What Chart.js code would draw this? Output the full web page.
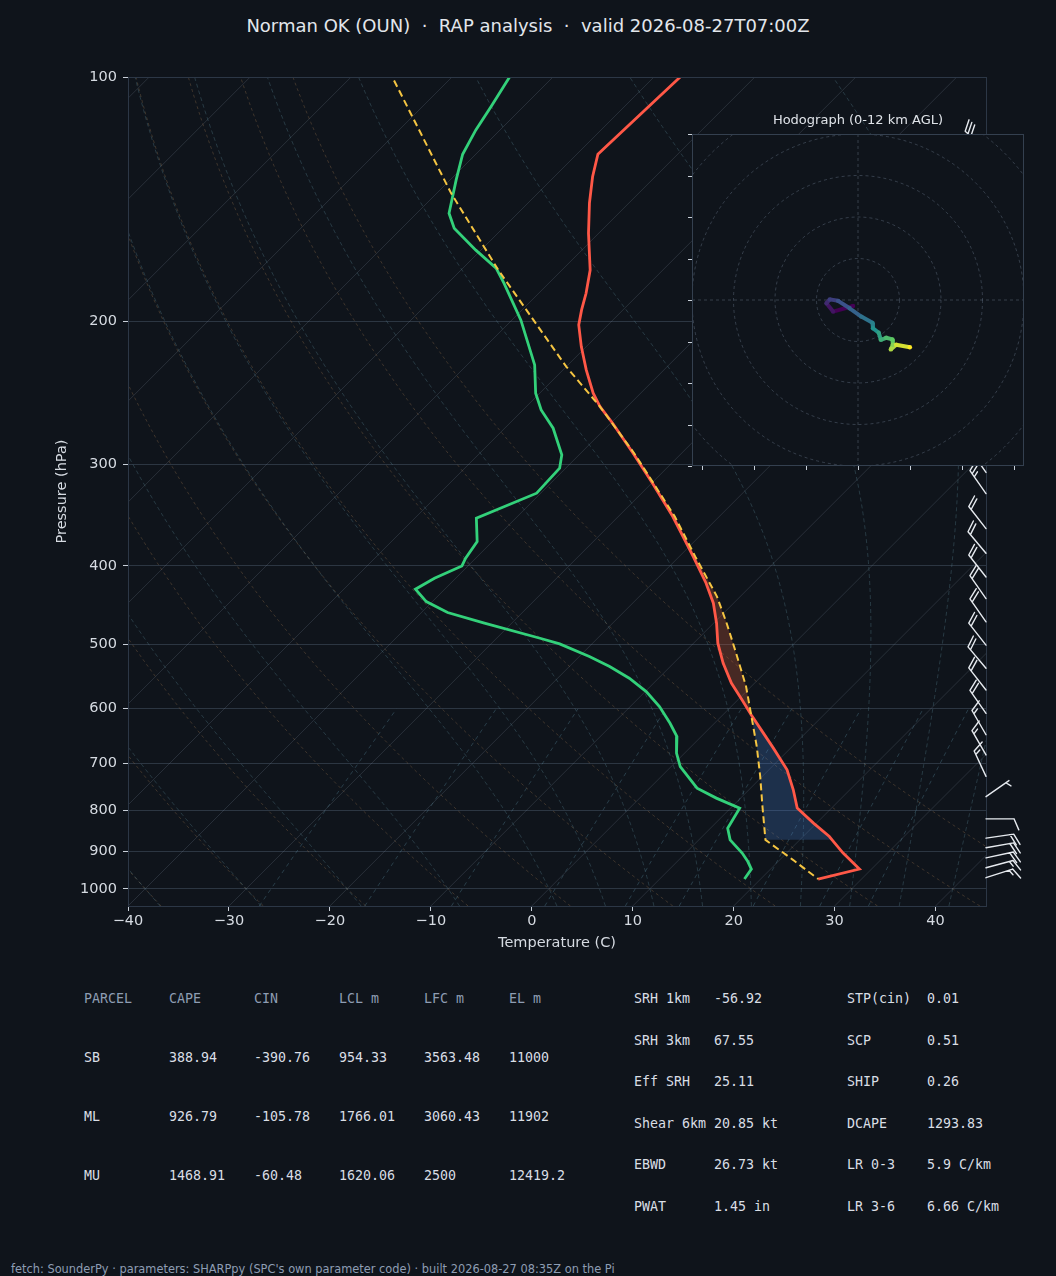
<!DOCTYPE html>
<html>
<head>
<meta charset="utf-8">
<title>Skew-T OUN</title>
<script src="https://cdn.jsdelivr.net/npm/chart.js@4.4.1/dist/chart.umd.min.js"></script>
<style>
  body { margin: 0; background: #0f141b; width: 1056px; height: 1276px; overflow: hidden; position: relative; font-family: "DejaVu Sans", sans-serif; }
  #title { position: absolute; top: 15px; left: 0; width: 1056px; text-align: center; color: #e2e6eb; font-size: 18px; white-space: pre; }
  #skewt { position: absolute; left: 0; top: 0; }
  #hodo { position: absolute; left: 682px; top: 110px; }
  #hodoTitle { position: absolute; left: 692px; width: 332px; top: 112px; text-align: center; color: #dfe3e8; font-size: 13px; }
  .t { position: absolute; font-family: "DejaVu Sans Mono", monospace; font-size: 13.3px; color: #d9dee5; white-space: pre; line-height: 14px; }
  .h { color: #8e9db3; }
  #foot { position: absolute; left: 11px; top: 1262px; font-size: 11.4px; color: #8e9db3; white-space: pre; }
</style>
</head>
<body>
<div id="title">Norman OK (OUN)  ·  RAP analysis  ·  valid 2026-08-27T07:00Z</div>
<canvas id="skewt" width="1056" height="960"></canvas>
<canvas id="hodo" width="352" height="366"></canvas>
<div id="hodoTitle">Hodograph (0-12 km AGL)</div>
<div id="tables"></div>
<div id="foot">fetch: SounderPy · parameters: SHARPpy (SPC's own parameter code) · built 2026-08-27 08:35Z on the Pi</div>

<script>
// ---- sounding (pressure hPa, temperature C)
const tempP = [100, 124.5, 132.7, 143.0, 155.8, 172.9, 184.7, 193.6, 202.0, 214.8, 229.5, 245.2, 254.7, 267.0, 290.7, 316.6, 347.9, 389.8, 420.3, 444.8, 470.8, 498.2, 527.2, 558.0, 585.0, 610.5, 634.0, 671.0, 713.5, 755.2, 795.4, 830.0, 862.2, 870.4, 903.6, 945.6, 972.7];
const tempT = [-67.4, -67.9, -66.2, -63.9, -61.0, -57.2, -55.3, -54.1, -52.9, -50.5, -47.7, -44.7, -42.7, -39.8, -34.8, -29.9, -24.6, -18.6, -14.7, -12.0, -9.7, -7.6, -5.1, -2.3, 0.4, 2.8, 5.0, 8.3, 11.8, 14.4, 16.6, 19.7, 22.6, 23.2, 25.6, 28.8, 25.7];

const dewP = [100, 108.8, 116.2, 124.5, 133.9, 147.2, 153.6, 163.4, 172.0, 179.6, 199.3, 226.3, 245.2, 257.1, 270.8, 292.1, 303.3, 325.6, 349.5, 373.5, 391.5, 400.2, 414.4, 427.5, 442.8, 456.8, 470.8, 491.3, 499.2, 517.5, 532.4, 550.3, 571.5, 596.4, 625.3, 649.3, 680.6, 707.0, 751.6, 773.2, 795.4, 842.0, 870.4, 903.6, 925.6, 945.6, 972.7];
const dewT = [-84.3, -83.2, -82.4, -81.3, -79.4, -76.8, -74.8, -70.5, -66.7, -64.4, -59.1, -53.3, -50.4, -48.2, -45.2, -41.7, -40.6, -40.4, -43.9, -41.5, -41.0, -40.6, -42.1, -42.9, -40.6, -37.4, -32.7, -25.7, -23.2, -19.0, -16.0, -12.9, -9.9, -7.1, -4.4, -2.4, -0.8, 0.9, 4.7, 7.6, 10.9, 11.7, 13.1, 15.6, 17.0, 18.1, 18.4];

const parcelP = [101, 139.0, 172.9, 227.4, 254.7, 290.7, 316.6, 347.9, 389.8, 436.5, 470.8, 512.5, 563.5, 610.5, 668.0, 727.1, 791.8, 870.4, 921.1, 972.7];
const parcelT = [-95.4, -78.6, -66.3, -50.0, -42.7, -34.7, -29.8, -24.4, -18.4, -12.3, -8.7, -4.8, -0.5, 2.8, 6.5, 9.8, 13.0, 16.6, 21.3, 25.7];

// pressure bounds of the shaded areas (LFC / EL / LCL)
const capeRange = [254.7, 610.5];
const cinRange = [610.5, 870.4];

// ---- wind barbs (pressure hPa, direction deg, speed kt)
const barbP = [123, 131, 140, 150, 160, 170, 182, 194, 207, 221, 236, 252, 269, 287, 307, 326, 360, 386, 413, 439, 469, 501, 535, 569, 608, 646, 684, 727, 770, 820, 866, 890, 916, 942, 969];
const barbDir = [312, 312, 310, 310, 308, 310, 312, 315, 315, 318, 318, 320, 320, 322, 325, 325, 322, 320, 322, 325, 325, 322, 320, 322, 325, 330, 330, 335, 55, 90, 82, 80, 78, 75, 72];
const barbSpd = [30, 30, 30, 30, 25, 25, 25, 25, 25, 25, 25, 25, 25, 25, 25, 25, 20, 20, 20, 20, 20, 20, 20, 20, 20, 15, 15, 15, 5, 10, 20, 20, 20, 15, 15];

// ---- hodograph (u, v in kt), surface first
const hodoU = [-1.2, -6.0, -7.6, -6.8, -4.8, -2.0, 0.8, 3.5, 3.6, 5.0, 5.5, 6.8, 8.3, 8.4, 7.9, 9.2, 12.5];
const hodoV = [-1.45, -2.8, -0.8, 0.15, -0.2, -2.0, -4.0, -5.5, -6.8, -7.9, -9.6, -9.1, -9.5, -10.8, -11.9, -10.8, -11.4];
const hodoRings = [10, 20, 30, 40, 50];
const hodoXTicks = [-37.5, -25, -12.5, 0, 12.5, 25, 37.5];
const hodoYTicks = [-40, -30, -20, -10, 0, 10, 20, 30, 40];

// ---- axes
const xTicks = [-40, -30, -20, -10, 0, 10, 20, 30, 40];
const yTicks = [100, 200, 300, 400, 500, 600, 700, 800, 900, 1000];

// ---- background lines of the diagram
const isotherms = [-120, -110, -100, -90, -80, -70, -60, -50, -40, -30, -20, -10, 0, 10, 20, 30, 40];
const dryT0 = [-40, -30, -20, -10, 0, 10, 20, 30, 40, 50];
const moistT0 = [-40, -30, -20, -10, 0, 5, 10, 15, 20, 25, 30, 35, 40, 45];
const mixRatios = [0.0004, 0.001, 0.002, 0.004, 0.007, 0.01, 0.016, 0.024, 0.032];

// parameter tables
const parcelHead = ['PARCEL', 'CAPE', 'CIN', 'LCL m', 'LFC m', 'EL m'];
const parcelRows = [
  ['SB', '388.94', '-390.76', '954.33', '3563.48', '11000'],
  ['ML', '926.79', '-105.78', '1766.01', '3060.43', '11902'],
  ['MU', '1468.91', '-60.48', '1620.06', '2500', '12419.2']
];
const paramRows = [
  ['SRH 1km', '-56.92', 'STP(cin)', '0.01'],
  ['SRH 3km', '67.55', 'SCP', '0.51'],
  ['Eff SRH', '25.11', 'SHIP', '0.26'],
  ['Shear 6km', '20.85 kt', 'DCAPE', '1293.83'],
  ['EBWD', '26.73 kt', 'LR 0-3', '5.9 C/km'],
  ['PWAT', '1.45 in', 'LR 3-6', '6.66 C/km']
];

const PBOT = 1050, PTOP = 100;
const SKEW = 80.4; // C per decade of pressure, isotherms at 45 degrees

function skx(t, p) { return t + SKEW * Math.log10(PBOT / p); }
function pts(P, T) { return P.map((p, i) => ({ x: skx(T[i], p), y: p })); }
function between(P, T, lo, hi) {
    const out = [];
    P.forEach((p, i) => { if (p >= lo && p <= hi) out.push({ x: skx(T[i], p), y: p }); });
    return out;
}

const capeShape = between(parcelP, parcelT, capeRange[0], capeRange[1])
    .concat(between(tempP, tempT, capeRange[0], capeRange[1]).reverse());
const cinShape = between(parcelP, parcelT, cinRange[0], cinRange[1])
    .concat(between(tempP, tempT, cinRange[0], cinRange[1]).reverse());

// pressure levels used to trace the background curves
const bgLevels = [];
for (let p = PBOT; p >= PTOP - 0.01; p *= 0.985) bgLevels.push(p);
bgLevels.push(PTOP);

function moistProfile(t0) {
    const Rd = 287.04, Cp = 1005.7, Lv = 2.501e6, eps = 0.622;
    const f = (p, T) => {
        const tc = T - 273.15;
        const es = 6.112 * Math.exp(17.67 * tc / (tc + 243.5));
        const rs = eps * es / (p - es);
        return (Rd * T + Lv * rs) / (Cp + Lv * Lv * rs * eps / (Rd * T * T)) / p;
    };
    const run = (h, stop) => {
        const out = [];
        let T = t0 + 273.15, p = 1000;
        while ((h < 0 && p > stop) || (h > 0 && p < stop)) {
            const k1 = f(p, T), k2 = f(p + h / 2, T + h / 2 * k1), k3 = f(p + h / 2, T + h / 2 * k2), k4 = f(p + h, T + h * k3);
            T += h / 6 * (k1 + 2 * k2 + 2 * k3 + k4);
            p += h;
            out.push({ p: p, t: T - 273.15 });
        }
        return out;
    };
    return run(5, PBOT).reverse().concat([{ p: 1000, t: t0 }], run(-5, PTOP));
}

function strokeCurve(ctx, chart, list) {
    const xs = chart.scales.x, ys = chart.scales.y;
    ctx.beginPath();
    list.forEach((q, i) => {
        const X = xs.getPixelForValue(skx(q.t, q.p)), Y = ys.getPixelForValue(q.p);
        if (i) ctx.lineTo(X, Y); else ctx.moveTo(X, Y);
    });
    ctx.stroke();
}

const skewBackground = {
    id: 'skewBackground',
    beforeDatasetsDraw(chart) {
        const { ctx, chartArea: a } = chart;
        ctx.save();
        ctx.beginPath();
        ctx.rect(a.left, a.top, a.right - a.left, a.bottom - a.top);
        ctx.clip();

        // isotherms
        ctx.strokeStyle = 'rgba(130,145,165,0.22)';
        ctx.lineWidth = 1;
        isotherms.forEach(t => strokeCurve(ctx, chart, [{ p: PBOT, t: t }, { p: PTOP, t: t }]));

        // dry adiabats
        ctx.strokeStyle = 'rgba(160,120,80,0.42)';
        ctx.lineWidth = 0.8;
        ctx.setLineDash([3, 3]);
        dryT0.forEach(t0 => strokeCurve(ctx, chart,
            bgLevels.map(p => ({ p: p, t: (t0 + 273.15) * Math.pow(p / 1000, 0.2857) - 273.15 }))));

        // moist adiabats
        ctx.strokeStyle = 'rgba(90,135,150,0.42)';
        ctx.setLineDash([4, 3]);
        moistT0.forEach(t0 => strokeCurve(ctx, chart, moistProfile(t0)));

        // mixing ratio lines
        ctx.strokeStyle = 'rgba(90,140,160,0.45)';
        ctx.setLineDash([4, 4]);
        mixRatios.forEach(w => strokeCurve(ctx, chart,
            bgLevels.filter(p => p >= 600).map(p => {
                const e = w * p / (0.622 + w), l = Math.log(e / 6.112);
                return { p: p, t: 243.5 * l / (17.67 - l) };
            })));
        ctx.restore();
    },
    afterDraw(chart) {
        const { ctx, chartArea: a } = chart;
        ctx.save();
        ctx.strokeStyle = '#2c3746';
        ctx.lineWidth = 1;
        ctx.strokeRect(a.left + 0.5, a.top + 0.5, a.right - a.left, a.bottom - a.top);
        ctx.restore();
    }
};

const barbPlugin = {
    id: 'barbs',
    afterDraw(chart) {
        const { ctx, chartArea: a, scales } = chart;
        const bx = a.right;
        const L = 28, FL = 12, GAP = 3.8;
        ctx.save();
        ctx.strokeStyle = '#e6eaef';
        ctx.lineWidth = 1.4;
        ctx.lineCap = 'round';
        barbP.forEach((p, i) => {
            const by = scales.y.getPixelForValue(p);
            const ang = barbDir[i] * Math.PI / 180;
            const hx = Math.sin(ang), hy = -Math.cos(ang);
            const px = -hy, py = hx;
            const tx = bx + hx * L, ty = by + hy * L;
            ctx.beginPath();
            ctx.moveTo(bx, by);
            ctx.lineTo(tx, ty);
            const spd = Math.round(barbSpd[i] / 5) * 5;
            const n10 = Math.floor(spd / 10), n5 = spd % 10 >= 5 ? 1 : 0;
            let d = 0;
            for (let k = 0; k < n10; k++) {
                const sx = tx - hx * d, sy = ty - hy * d;
                ctx.moveTo(sx, sy);
                ctx.lineTo(sx + FL * (px * 0.92 + hx * 0.4), sy + FL * (py * 0.92 + hy * 0.4));
                d += GAP;
            }
            if (n5) {
                if (n10 === 0) d += GAP;
                const sx = tx - hx * d, sy = ty - hy * d;
                ctx.moveTo(sx, sy);
                ctx.lineTo(sx + FL / 2 * (px * 0.92 + hx * 0.4), sy + FL / 2 * (py * 0.92 + hy * 0.4));
            }
            ctx.stroke();
        });
        ctx.restore();
    }
};

const tickFont = { family: 'DejaVu Sans', size: 14.5 };
const labelFont = { family: 'DejaVu Sans', size: 14.5 };

new Chart(document.getElementById('skewt'), {
    type: 'scatter',
    data: {
        datasets: [
            { label: 'Parcel', data: pts(parcelP, parcelT), showLine: true, borderColor: '#f5c542', borderWidth: 2, borderDash: [7, 4], pointRadius: 0, order: 0 },
            { label: 'Temperature', data: pts(tempP, tempT), showLine: true, borderColor: '#ff5847', borderWidth: 2.8, pointRadius: 0, order: 1 },
            { label: 'Dewpoint', data: pts(dewP, dewT), showLine: true, borderColor: '#33d17a', borderWidth: 2.8, pointRadius: 0, order: 2 },
            { label: 'CAPE', data: capeShape, showLine: true, borderWidth: 0, pointRadius: 0, fill: 'shape', backgroundColor: 'rgba(230,105,60,0.26)', order: 5 },
            { label: 'CIN', data: cinShape, showLine: true, borderWidth: 0, pointRadius: 0, fill: 'shape', backgroundColor: 'rgba(70,130,220,0.25)', order: 6 }
        ]
    },
    options: {
        responsive: false,
        animation: false,
        layout: { padding: { top: 77, right: 70, left: 0, bottom: 0 } },
        plugins: { legend: { display: false }, tooltip: { enabled: false } },
        scales: {
            x: {
                type: 'linear', min: -40, max: 45,
                afterBuildTicks: s => { s.ticks = xTicks.map(v => ({ value: v })); },
                afterFit: s => { s.height = 54; },
                grid: { drawOnChartArea: false, tickLength: 5, tickColor: '#c9d0d9' },
                border: { display: false },
                ticks: { color: '#d6dbe2', font: tickFont, padding: 2, maxRotation: 0,
                         callback: v => (v < 0 ? '\u2212' + Math.abs(v) : String(v)) },
                title: { display: true, text: 'Temperature (C)', color: '#d6dbe2', font: labelFont, padding: { top: 0, bottom: 8 } }
            },
            y: {
                type: 'logarithmic', reverse: true, min: PTOP, max: PBOT,
                afterBuildTicks: s => { s.ticks = yTicks.map(v => ({ value: v })); },
                afterFit: s => { s.width = 128; },
                grid: { color: 'rgba(80,95,115,0.45)', lineWidth: 1, tickLength: 5, tickColor: '#c9d0d9' },
                border: { display: false },
                ticks: { color: '#d6dbe2', font: tickFont, padding: 6, callback: v => String(v) },
                title: { display: true, text: 'Pressure (hPa)', color: '#d6dbe2', font: labelFont, padding: { top: 54, bottom: 0 } }
            }
        }
    },
    plugins: [skewBackground, barbPlugin]
});

// ---- hodograph inset
const viridis = [[0, [68, 1, 84]], [0.25, [59, 82, 139]], [0.5, [33, 145, 140]], [0.75, [94, 201, 98]], [1, [253, 231, 37]]];
function viridisAt(f) {
    for (let i = 1; i < viridis.length; i++) {
        if (f <= viridis[i][0]) {
            const [f0, c0] = viridis[i - 1], [f1, c1] = viridis[i];
            const k = (f - f0) / (f1 - f0);
            return 'rgb(' + c0.map((c, j) => Math.round(c + (c1[j] - c) * k)).join(',') + ')';
        }
    }
    return 'rgb(253,231,37)';
}
const hodoColors = hodoU.map((u, i) => viridisAt(i / (hodoU.length - 1)));

const hodoFrame = {
    id: 'hodoFrame',
    beforeDatasetsDraw(chart) {
        const { ctx, chartArea: a, scales: { x, y } } = chart;
        ctx.save();
        ctx.fillStyle = '#0f141b';
        ctx.fillRect(a.left, a.top, a.right - a.left, a.bottom - a.top);
        ctx.beginPath();
        ctx.rect(a.left, a.top, a.right - a.left, a.bottom - a.top);
        ctx.clip();
        ctx.strokeStyle = 'rgba(110,125,145,0.5)';
        ctx.lineWidth = 0.8;
        ctx.setLineDash([3, 3]);
        const cx = x.getPixelForValue(0), cy = y.getPixelForValue(0);
        hodoRings.forEach(r => {
            ctx.beginPath();
            ctx.arc(cx, cy, x.getPixelForValue(r) - cx, 0, Math.PI * 2);
            ctx.stroke();
        });
        ctx.beginPath();
        ctx.moveTo(a.left, cy); ctx.lineTo(a.right, cy);
        ctx.moveTo(cx, a.top); ctx.lineTo(cx, a.bottom);
        ctx.stroke();
        ctx.restore();
    },
    afterDraw(chart) {
        const { ctx, chartArea: a, scales: { x, y } } = chart;
        ctx.save();
        ctx.strokeStyle = '#34404f';
        ctx.lineWidth = 1;
        ctx.strokeRect(a.left + 0.5, a.top + 0.5, a.right - a.left - 1, a.bottom - a.top - 1);
        ctx.strokeStyle = '#c9d0d9';
        ctx.beginPath();
        hodoYTicks.forEach(v => { const Y = Math.round(y.getPixelForValue(v)) + 0.5; ctx.moveTo(a.left - 4, Y); ctx.lineTo(a.left, Y); });
        hodoXTicks.forEach(u => { const X = Math.round(x.getPixelForValue(u)) + 0.5; ctx.moveTo(X, a.bottom); ctx.lineTo(X, a.bottom + 4); });
        ctx.stroke();
        ctx.restore();
    }
};

new Chart(document.getElementById('hodo'), {
    type: 'scatter',
    data: {
        datasets: [{
            data: hodoU.map((u, i) => ({ x: u, y: hodoV[i] })),
            showLine: true,
            borderWidth: 4,
            pointRadius: 2.2,
            pointBorderWidth: 0,
            pointBackgroundColor: hodoColors,
            segment: { borderColor: c => hodoColors[c.p0DataIndex] }
        }]
    },
    options: {
        responsive: false,
        animation: false,
        layout: { padding: { left: 10, right: 10, top: 24, bottom: 10 } },
        plugins: { legend: { display: false }, tooltip: { enabled: false } },
        scales: {
            x: { display: false, min: -40, max: 40 },
            y: { display: false, min: -40, max: 40 }
        }
    },
    plugins: [hodoFrame]
});

// ---- parameter tables
const tables = document.getElementById('tables');
function put(text, x, yc, cls) {
    const d = document.createElement('div');
    d.className = 't' + (cls ? ' ' + cls : '');
    d.textContent = text;
    d.style.left = x + 'px';
    d.style.top = (yc - 7) + 'px';
    tables.appendChild(d);
}
const parcelCols = [84, 169, 254, 339, 424, 509];
parcelHead.forEach((h, i) => put(h, parcelCols[i], 999, 'h'));
parcelRows.forEach((row, r) => row.forEach((v, i) => put(v, parcelCols[i], 1058 + r * 59)));
const paramCols = [634, 714, 847, 927];
paramRows.forEach((row, r) => row.forEach((v, i) => put(v, paramCols[i], 999 + r * 41.6)));
</script>
</body>
</html>
